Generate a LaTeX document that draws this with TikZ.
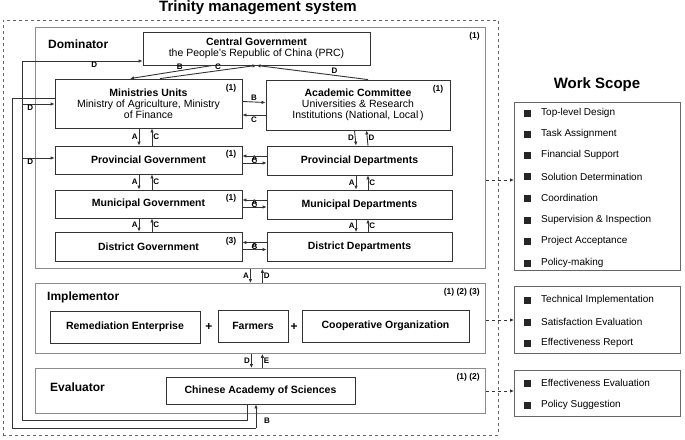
\documentclass[tikz,border=0pt]{standalone}
\usepackage{fontspec}
\setmainfont{Liberation Sans}
\begin{document}
\begin{tikzpicture}[x=1pt,y=-1pt,
  box/.style={draw=black!80,line width=0.8pt,inner sep=0pt,align=center,font=\fontsize{10.5}{12}\selectfont\bfseries},
  panel/.style={draw=black!45,line width=0.8pt,inner sep=0pt},
  scope box/.style={draw=black!60,line width=0.8pt,inner sep=0pt},
  conn/.style={draw=black!80,line width=0.9pt,-{Latex[length=4pt,width=3.5pt]}},
  plain/.style={draw=black!80,line width=0.9pt},
  lab/.style={font=\fontsize{8}{9}\selectfont\bfseries,inner sep=1pt},
  tag/.style={font=\fontsize{8.5}{9}\selectfont\bfseries,inner sep=0pt},
  head/.style={font=\fontsize{12}{14}\selectfont\bfseries,anchor=west,inner sep=0pt},
  item/.style={font=\fontsize{10}{12}\selectfont,anchor=west,inner sep=0pt},
  dsh/.style={draw=black!80,dashed,line width=0.8pt,-{Latex[length=4pt,width=3.5pt]}}]
\usetikzlibrary{arrows.meta}
\useasboundingbox (0,0) rectangle (685,439);
\node[font=\fontsize{15}{17}\selectfont\bfseries] (title) at (258,8) {Trinity management system};
\node[draw=black!60,dashed,line width=0.7pt,minimum width=495,minimum height=415,anchor=north west,inner sep=0pt] (outer) at (3,20) {};
% panels
\node[panel,minimum width=450,minimum height=241,anchor=north west] (dom) at (35,27) {};
\node[panel,minimum width=450,minimum height=70,anchor=north west] (imp) at (35,283) {};
\node[panel,minimum width=450,minimum height=45,anchor=north west] (eva) at (35,368) {};
\node[head] (domh) at (48,44) {Dominator};
\node[head] (imph) at (47,297) {Implementor};
\node[head] (evah) at (50,387) {Evaluator};
\node[tag,anchor=east] at (480,36) {(1)};
\node[tag,anchor=east] at (480,292) {(1) (2) (3)};
\node[tag,anchor=east] at (480,377) {(1) (2)};
% dominator boxes
\node[box,minimum width=227,minimum height=33] (cg) at (256.5,48.5) {Central Government\\[-1pt]\mdseries the People's Republic of China (PRC)};
\node[box,minimum width=187,minimum height=49] (mu) at (148.5,103.5) {Ministries Units\\[-1pt]\mdseries Ministry of Agriculture, Ministry\\[-1pt]\mdseries of Finance};
\node[box,minimum width=184,minimum height=50] (ac) at (358,105) {Academic Committee\\[-1pt]\mdseries Universities \& Research\\[-1pt]\mdseries Institutions (National, Local\,)};
\node[box,minimum width=187,minimum height=28] (pg) at (148.5,160) {Provincial Government};
\node[box,minimum width=185,minimum height=29] (pd) at (359.5,160.5) {Provincial Departments};
\node[box,minimum width=187,minimum height=28] (mg) at (148.5,204) {Municipal Government};
\node[box,minimum width=185,minimum height=29] (md) at (359.5,204.5) {Municipal Departments};
\node[box,minimum width=187,minimum height=29] (dg) at (148.5,246.5) {District Government};
\node[box,minimum width=185,minimum height=29] (dd) at (359.5,247) {District Departments};
\node[tag] at (231,88) {(1)};
\node[tag] at (438,89) {(1)};
\node[tag] at (231,154) {(1)};
\node[tag] at (231,198) {(1)};
\node[tag] at (231,241) {(3)};
% implementor
\node[box,minimum width=150,minimum height=32] (re) at (125,327) {Remediation Enterprise};
\node[box,minimum width=70,minimum height=32] (fa) at (253,326) {Farmers};
\node[box,minimum width=167,minimum height=32] (co) at (385.5,326) {Cooperative Organization};
\node[font=\fontsize{12}{12}\selectfont\bfseries] at (209,327) {+};
\node[font=\fontsize{12}{12}\selectfont\bfseries] at (294,327) {+};
% evaluator
\node[box,minimum width=189,minimum height=27] (cas) at (260.5,390.5) {Chinese Academy of Sciences};
% connectors: central/ministries/academic
\draw[conn] ([xshift=-43.5pt]cg.south) -- node[lab,above,pos=0.4]{B} ([xshift=-18.5pt]mu.north);
\draw[conn] ([xshift=11.5pt]mu.north) -- node[lab,above,pos=0.6]{C} (cg.south);
\draw[conn] ([xshift=10pt]ac.north) -- node[lab,above,pos=0.3]{D} (cg.south);
\draw[conn] ([yshift=2pt]mu.east) -- node[lab,above]{B} ([yshift=3.5pt]ac.west |- 0,106);
\draw[conn] (ac.west |- 0,115) -- node[lab,below]{C} (mu.east |- 0,115);
% vertical pairs
\newcommand\vpair[6]{%
 \draw[conn] ([xshift=#3]#1.south) -- node[lab,left]{#5} ([xshift=#3]#2.north);
 \draw[conn] ([xshift=#4]#2.north) -- node[lab,right]{#6} ([xshift=#4]#1.south);}
\vpair{mu}{pg}{-9.5pt}{3.5pt}{A}{C}
\vpair{pg}{mg}{-9.5pt}{3.5pt}{A}{C}
\vpair{mg}{dg}{-9.5pt}{3.5pt}{A}{C}
\vpair{ac}{pd}{-3.5pt}{8.5pt}{D}{D}
\vpair{pd}{md}{-3.5pt}{8.5pt}{A}{C}
\vpair{md}{dd}{-3.5pt}{8.5pt}{A}{C}
% horizontal pairs
\newcommand\hpair[3]{%
 \draw[conn] ([yshift=-3pt]#1.east) -- node[lab,above]{A} ([yshift=-3pt]#2.west |- #1.east);
 \draw[conn] ([yshift=4pt]#2.west |- #1.east) -- node[lab,below]{C} ([yshift=4pt]#1.east);}
\hpair{pg}{pd}{}
\hpair{mg}{md}{}
\hpair{dg}{dd}{}
% between panels
\draw[conn] ([xshift=-10pt]dom.south) -- node[lab,left]{A} ([xshift=-10pt]imp.north);
\draw[conn] ([xshift=2pt]imp.north) -- node[lab,right]{D} ([xshift=2pt]dom.south);
\draw[conn] ([xshift=-9pt]imp.south) -- node[lab,left]{D} ([xshift=-9pt]eva.north);
\draw[conn] ([xshift=2pt]eva.north) -- node[lab,right]{E} ([xshift=2pt]imp.south);
% feedback lines
\coordinate (c1) at (247,420);
\coordinate (c2) at (22,420);
\draw[plain] ([xshift=-13.5pt]cas.south) -- (c1) -- (c2) -- (22,61);
\draw[conn] (22,61) -- node[lab,below,pos=0.6]{D} (cg.west |- 0,61);
\draw[conn] (22,104) -- node[lab,below,pos=0.25]{D} (mu.west |- 0,104);
\draw[conn] (22,158) -- node[lab,below,pos=0.25]{D} (pg.west |- 0,158);
\coordinate (c3) at (12,98);
\coordinate (c4) at (12,428);
\coordinate (c5) at (256,428);
\draw[plain] (mu.west |- c3) -- (c3) -- (c4) -- (c5);
\draw[conn] (c5) -- ([xshift=-4.5pt]cas.south);
\node[lab] at (267,421) {B};
% work scope
\node[font=\fontsize{15}{17}\selectfont\bfseries] (wst) at (597,85) {Work Scope};
\node[scope box,minimum width=166,minimum height=168,anchor=north west] (ws1) at (514,102) {};
\node[scope box,minimum width=166,minimum height=67,anchor=north west] (ws2) at (514,286) {};
\node[scope box,minimum width=166,minimum height=46,anchor=north west] (ws3) at (514,370) {};
\newcommand\witem[2]{\fill[black!85] (524,#1-3.5) rectangle +(7,7); \node[item] at (541,#1) {#2};}
\witem{113}{Top-level Design}
\witem{134}{Task Assignment}
\witem{155}{Financial Support}
\witem{176.5}{Solution Determination}
\witem{198}{Coordination}
\witem{220}{Supervision \& Inspection}
\witem{241}{Project Acceptance}
\witem{263}{Policy-making}
\witem{300}{Technical Implementation}
\witem{322}{Satisfaction Evaluation}
\witem{343}{Effectiveness Report}
\witem{383}{Effectiveness Evaluation}
\witem{405}{Policy Suggestion}
\draw[dsh] (dom.east |- 0,180) -- (ws1.west |- 0,180);
\draw[dsh] (imp.east |- 0,320) -- (ws2.west |- 0,320);
\draw[dsh] (eva.east |- 0,391) -- (ws3.west |- 0,391);
\end{tikzpicture}
\end{document}
